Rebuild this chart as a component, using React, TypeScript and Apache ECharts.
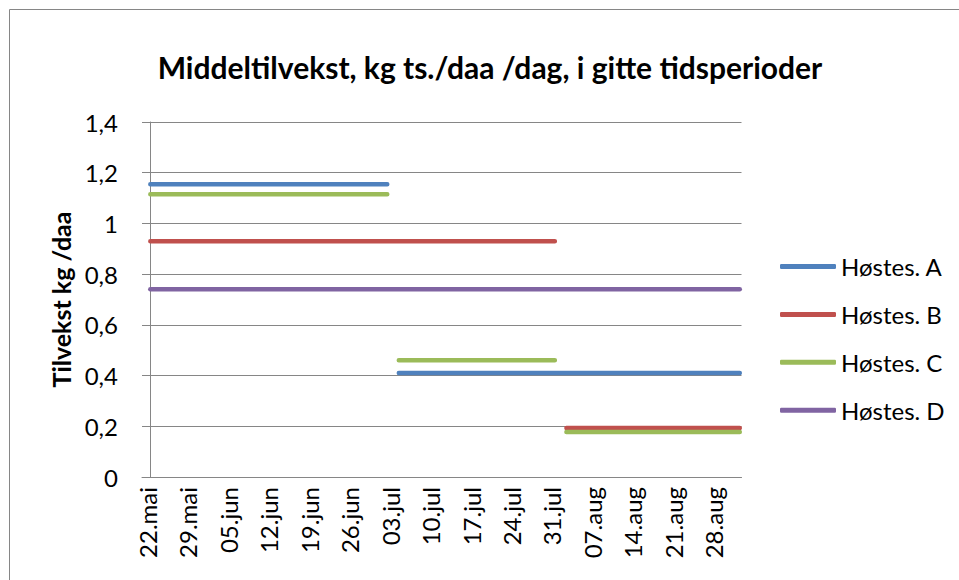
import React, { useEffect, useRef } from "react";
import * as echarts from "echarts";

const titleText = "Middeltilvekst, kg ts./daa /dag, i gitte tidsperioder";
const yAxisTitle = "Tilvekst kg /daa";

// x tick labels (weekly) and their day offsets from 22.mai
const dayLabels = [
  "22.mai", "29.mai", "05.jun", "12.jun", "19.jun", "26.jun", "03.jul",
  "10.jul", "17.jul", "24.jul", "31.jul", "07.aug", "14.aug", "21.aug", "28.aug",
];
const labelDays = [0, 7, 14, 21, 28, 35, 42, 49, 56, 63, 70, 77, 84, 91, 98];

const seriesNames = ["Høstes. A", "Høstes. B", "Høstes. C", "Høstes. D"];
const seriesColors = ["#4F81BD", "#C0504D", "#9BBB59", "#8064A2"];

// periods: [first day, last day, mean growth]
const hostesA = [[0, 41, 1.155], [43, 102, 0.41]];
const hostesB = [[0, 70, 0.93], [72, 102, 0.193]];
const hostesC = [[0, 41, 1.115], [43, 70, 0.46], [72, 102, 0.177]];
const hostesD = [[0, 102, 0.74]];

const allPeriods = [hostesA, hostesB, hostesC, hostesD];

const FONT = "Lato, 'Noto Sans', sans-serif";

function buildData(periods: number[][]) {
  const out: any[] = [];
  periods.forEach((p, i) => {
    if (i > 0) out.push([p[0] - 1, null]);
    out.push([p[0], p[2]]);
    out.push([p[1], p[2]]);
  });
  return out;
}

export default function App() {
  const ref = useRef<HTMLDivElement>(null);
  useEffect(() => {
    if (!ref.current) return;
    const chart = echarts.init(ref.current, null, { renderer: "svg" });
    const grid = { left: 142, top: 122, width: 599.5, height: 355 };
    chart.setOption({
      animation: false,
      backgroundColor: "#ffffff",
      textStyle: { fontFamily: FONT },
      grid,
      graphic: [
        {
          type: "rect",
          shape: { x: 9.5, y: 9.5, width: 1200, height: 1200 },
          style: { fill: "none", stroke: "#868686", lineWidth: 1 },
          silent: true,
        },
        {
          type: "text",
          x: 490,
          y: 67,
          style: {
            text: titleText,
            fontFamily: FONT,
            fontSize: 30,
            fontWeight: "bold",
            fill: "#000000",
            align: "center",
            verticalAlign: "middle",
          },
        },
      ],
      legend: {
        orient: "vertical",
        left: 775,
        top: 249.5,
        itemWidth: 56,
        itemHeight: 5,
        itemGap: 23.9,
        icon: "roundRect",
        textStyle: { fontFamily: FONT, fontSize: 24, color: "#000", lineHeight: 24 },
        data: seriesNames,
      },
      xAxis: {
        type: "value",
        min: -1.44,
        max: 102.3,
        splitLine: { show: false },
        axisTick: { show: false },
        axisLine: { show: true, lineStyle: { color: "#868686", width: 1 } },
        axisLabel: {
          customValues: labelDays.map((d) => d - 0.5),
          rotate: 90,
          margin: 10,
          fontFamily: FONT,
          fontSize: 24,
          color: "#000",
          formatter: (v: number) => dayLabels[labelDays.indexOf(Math.round(v + 0.5))] ?? "",
        },
      },
      yAxis: {
        type: "value",
        min: 0,
        max: 1.4,
        interval: 0.2,
        name: yAxisTitle,
        nameLocation: "middle",
        nameRotate: 90,
        nameGap: 66,
        nameTextStyle: { fontFamily: FONT, fontSize: 25, fontWeight: "bold", color: "#000" },
        axisLine: { show: true, lineStyle: { color: "#868686", width: 1 } },
        axisTick: { show: false },
        splitLine: { show: true, lineStyle: { color: "#868686", width: 1 } },
        axisLabel: {
          margin: 24,
          fontFamily: FONT,
          fontSize: 24,
          color: "#000",
          formatter: (v: number) => String(Number(v.toFixed(1))).replace(".", ","),
        },
      },
      series: allPeriods.map((periods, i) => ({
        name: seriesNames[i],
        type: "line",
        data: buildData(periods),
        symbol: "none",
        connectNulls: false,
        color: seriesColors[i],
        lineStyle: { color: seriesColors[i], width: 4.5, cap: "round" },
        clip: true,
      })),
    });
    return () => chart.dispose();
  }, []);
  return (
    <div
      ref={ref}
      style={{ position: "fixed", left: 0, top: 0, width: 959, height: 580 }}
    />
  );
}
